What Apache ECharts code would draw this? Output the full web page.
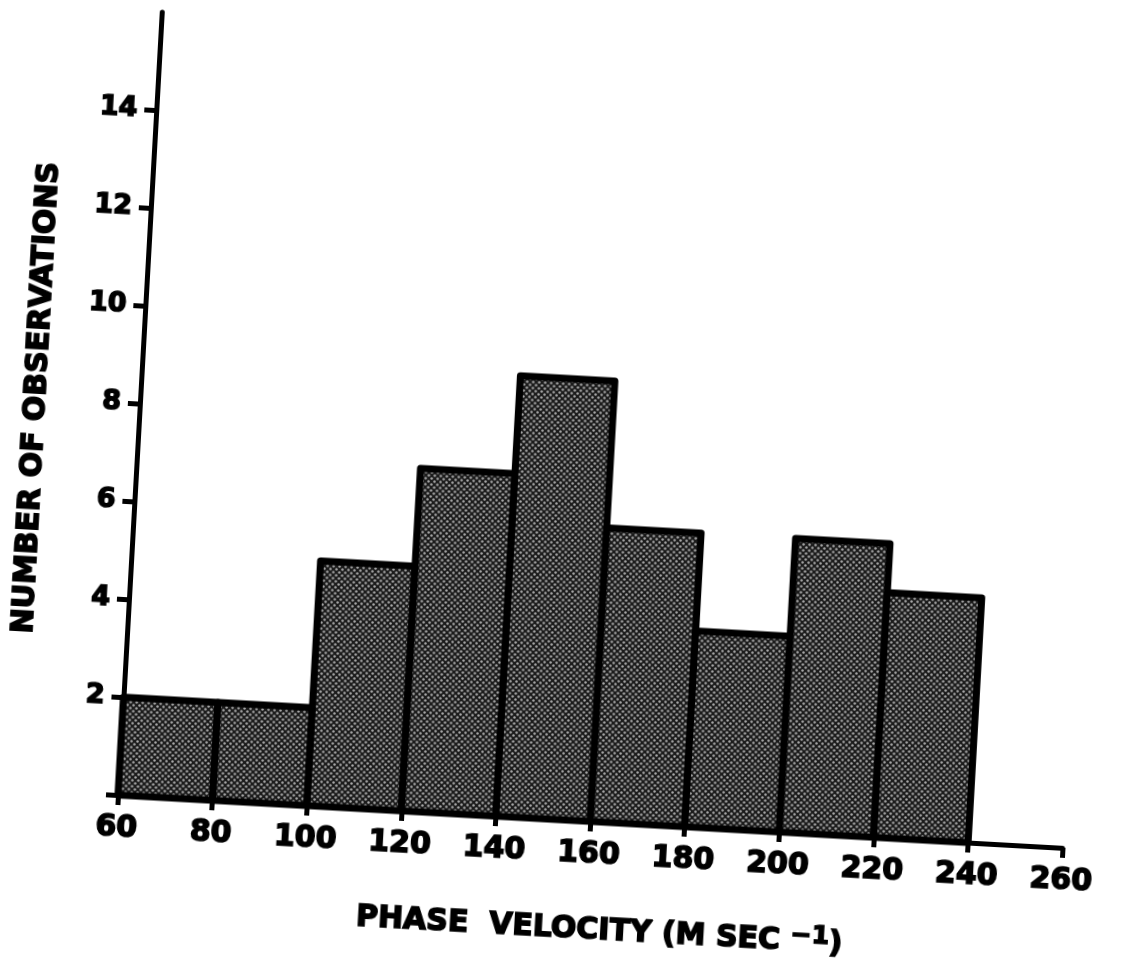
<!DOCTYPE html>
<html>
<head>
<meta charset="utf-8">
<script src="https://cdn.jsdelivr.net/npm/echarts@6/dist/echarts.min.js"></script>
<style>
  html, body { margin: 0; padding: 0; background: #fff; overflow: hidden; width: 1124px; height: 961px; }
  #chart {
    position: absolute; left: -50px; top: -50px; width: 1224px; height: 1061px;
    transform: rotate(3.2deg); transform-origin: 168px 845px;
  }
</style>
</head>
<body>
<div id="chart"></div>
<script>
// Histogram bins (m/s) and number of observations in each
const binStart = [60, 80, 100, 120, 140, 160, 180, 200, 220];
const binWidth = 20;
const counts = [2, 2, 5, 7, 9, 6, 4, 6, 5];
// Axis ticks
const yLabelValues = [2, 4, 6, 8, 10, 12, 14];
const yTickValues = [0, 2, 4, 6, 8, 10, 12, 14];

// Halftone-like dot pattern for the bar fill
function makeDots() {
  const c = document.createElement('canvas');
  c.width = 6; c.height = 6;
  const g = c.getContext('2d');
  g.fillStyle = '#1c1c1c';
  g.fillRect(0, 0, 6, 6);
  g.fillStyle = '#a8a8a8';
  [[1.5, 1.5], [4.5, 4.5]].forEach(([x, y]) => {
    g.beginPath(); g.arc(x, y, 1.25, 0, Math.PI * 2); g.fill();
  });
  return c;
}
const dotFill = { image: makeDots(), repeat: 'repeat' };

const bins = binStart.map((s, i) => [s, s + binWidth, counts[i]]);
const font = 'DejaVu Sans';
// heavy lettering: bold face with a thin outline in the same colour
const heavy = { fontFamily: font, fontWeight: 'bold', color: '#000', textBorderColor: '#000', textBorderWidth: 1.6 };

const chart = echarts.init(document.getElementById('chart'), null, { renderer: 'canvas' });
chart.setOption({
  animation: false,
  backgroundColor: 'transparent',
  grid: { left: 168, top: 61, width: 946, height: 784, containLabel: false },
  xAxis: {
    type: 'value', min: 60, max: 260, interval: 20,
    name: '{m|PHASE  VELOCITY (M SEC }{sup|−1}{m|)}',
    nameLocation: 'middle', nameGap: 104,
    nameTextStyle: Object.assign({}, heavy, {
      fontSize: 30, verticalAlign: 'middle', padding: [0, 0, 0, 30],
      rich: {
        m: Object.assign({}, heavy, { fontSize: 30, lineHeight: 40, verticalAlign: 'bottom' }),
        sup: Object.assign({}, heavy, { fontSize: 25, lineHeight: 40, verticalAlign: 'bottom', padding: [0, 0, 9, 0] })
      }
    }),
    axisLine: { show: true, lineStyle: { color: '#000', width: 5 } },
    axisTick: { show: true, inside: false, length: 10, lineStyle: { color: '#000', width: 5 } },
    axisLabel: Object.assign({}, heavy, { fontSize: 30, margin: 18 }),
    splitLine: { show: false }
  },
  yAxis: {
    type: 'value', min: 0, max: 16, interval: 2,
    name: 'NUMBER OF OBSERVATIONS',
    nameLocation: 'middle', nameGap: 88, nameRotate: 90,
    nameTextStyle: Object.assign({}, heavy, { fontSize: 30 }),
    axisLine: { show: true, lineStyle: { color: '#000', width: 5 } },
    axisTick: { show: true, inside: false, length: 12, customValues: yTickValues, lineStyle: { color: '#000', width: 5 } },
    axisLabel: Object.assign({}, heavy, { fontSize: 27, margin: 19, customValues: yLabelValues }),
    splitLine: { show: false }
  },
  series: [{
    type: 'custom',
    data: bins,
    encode: { x: [0, 1], y: 2 },
    renderItem: function (params, api) {
      const top = api.coord([api.value(0), api.value(2)]);
      const base = api.coord([api.value(1), 0]);
      return {
        type: 'rect',
        shape: { x: top[0], y: top[1], width: base[0] - top[0], height: base[1] - top[1] },
        style: { fill: dotFill, stroke: '#000', lineWidth: 7, lineJoin: 'round' }
      };
    }
  }]
});
</script>
</body>
</html>
